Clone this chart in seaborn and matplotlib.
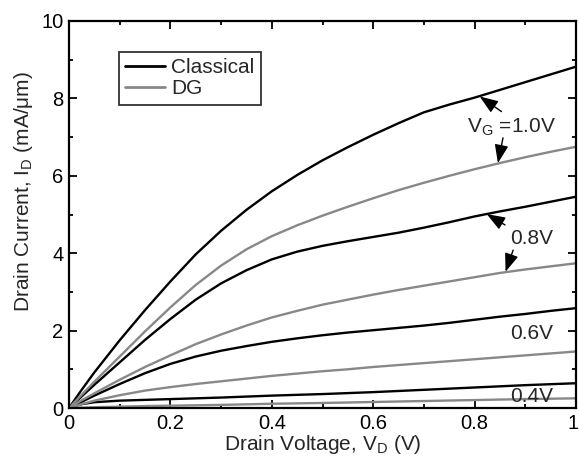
import numpy as np
import pandas as pd
import matplotlib
matplotlib.use("Agg")
import matplotlib.pyplot as plt
import matplotlib.transforms as mtransforms
import seaborn as sns
from matplotlib.lines import Line2D
from matplotlib.ticker import MultipleLocator

# ---- data ----
vd = [0, 0.025, 0.05, 0.1, 0.15, 0.2, 0.25, 0.3, 0.35, 0.4, 0.45, 0.5, 0.55, 0.6,
      0.65, 0.7, 0.75, 0.8, 0.85, 0.9, 0.95, 1.0]

classical_10 = [0, 0.47, 0.92, 1.75, 2.53, 3.27, 3.97, 4.58, 5.12, 5.6, 6.02, 6.4, 6.74, 7.06,
                7.36, 7.64, 7.84, 8.02, 8.22, 8.42, 8.62, 8.82]
classical_08 = [0, 0.3, 0.6, 1.18, 1.76, 2.3, 2.8, 3.22, 3.56, 3.84, 4.04, 4.19, 4.31, 4.42,
                4.53, 4.66, 4.8, 4.95, 5.08, 5.2, 5.33, 5.46]
classical_06 = [0, 0.16, 0.32, 0.62, 0.9, 1.14, 1.33, 1.48, 1.6, 1.71, 1.8, 1.88, 1.95, 2.01,
                2.07, 2.13, 2.2, 2.28, 2.36, 2.43, 2.51, 2.58]
classical_04 = [0, 0.1, 0.15, 0.19, 0.21, 0.23, 0.25, 0.27, 0.295, 0.32, 0.34, 0.36, 0.385, 0.41,
                0.44, 0.47, 0.5, 0.53, 0.56, 0.59, 0.615, 0.64]

dg_10 = [0, 0.34, 0.68, 1.33, 1.98, 2.6, 3.18, 3.68, 4.1, 4.44, 4.72, 4.97, 5.2, 5.42,
         5.63, 5.82, 6.0, 6.17, 6.33, 6.48, 6.62, 6.75]
dg_08 = [0, 0.2, 0.38, 0.73, 1.06, 1.36, 1.65, 1.9, 2.13, 2.34, 2.51, 2.67, 2.8, 2.93,
         3.05, 3.16, 3.27, 3.38, 3.49, 3.58, 3.66, 3.74]
dg_06 = [0, 0.1, 0.19, 0.33, 0.45, 0.54, 0.62, 0.69, 0.76, 0.83, 0.89, 0.95, 1.0, 1.06,
         1.11, 1.16, 1.21, 1.26, 1.31, 1.36, 1.41, 1.46]
dg_04 = [0, 0.01, 0.02, 0.035, 0.05, 0.06, 0.07, 0.08, 0.095, 0.11, 0.12, 0.13, 0.142, 0.155,
         0.168, 0.18, 0.193, 0.205, 0.218, 0.23, 0.24, 0.25]

x_ticks = [0, 0.2, 0.4, 0.6, 0.8, 1.0]
x_tick_labels = ["0", "0.2", "0.4", "0.6", "0.8", "1"]
y_ticks = [0, 2, 4, 6, 8, 10]
y_tick_labels = ["0", "2", "4", "6", "8", "10"]

series = {
    ("Classical", "1.0"): classical_10,
    ("Classical", "0.8"): classical_08,
    ("Classical", "0.6"): classical_06,
    ("Classical", "0.4"): classical_04,
    ("DG", "1.0"): dg_10,
    ("DG", "0.8"): dg_08,
    ("DG", "0.6"): dg_06,
    ("DG", "0.4"): dg_04,
}

rows = []
for (model, vg), vals in series.items():
    for x, y in zip(vd, vals):
        rows.append({"VD": x, "ID": y, "model": model, "VG": vg})
df = pd.DataFrame(rows)

# ---- style ----
sns.set_style("ticks")
plt.rcParams["font.family"] = ["Liberation Sans", "DejaVu Sans"]
plt.rcParams["mathtext.fontset"] = "custom"
plt.rcParams["mathtext.rm"] = "Liberation Sans"
plt.rcParams["mathtext.it"] = "Liberation Sans"

colors = {"Classical": "#000000", "DG": "#888888"}

fig = plt.figure(figsize=(5.79, 4.59), dpi=100)
ax = fig.add_axes([69 / 579, 1 - 408 / 459, (576 - 69) / 579, (408 - 21) / 459])

for (model, vg), sub in df.groupby(["model", "VG"]):
    sns.lineplot(data=sub, x="VD", y="ID", color=colors[model], lw=1.7,
                 ax=ax, legend=False, estimator=None, sort=True)

ax.set_xlim(0, 1)
ax.set_ylim(0, 10)
ax.set_xticks(x_ticks)
ax.set_xticklabels(x_tick_labels)
ax.set_yticks(y_ticks)
ax.set_yticklabels(y_tick_labels)
ax.xaxis.set_minor_locator(MultipleLocator(0.1))
ax.yaxis.set_minor_locator(MultipleLocator(1))
ax.tick_params(which="both", direction="in", top=True, right=True, width=1.3,
               labelsize=14.5, colors="k")
ax.tick_params(which="major", length=6, pad=4)
ax.tick_params(which="minor", length=3)
for s in ax.spines.values():
    s.set_linewidth(1.6)
    s.set_color("k")

# keep the last x tick label inside the figure
last = ax.get_xticklabels()[-1]
last.set_transform(last.get_transform() +
                   mtransforms.ScaledTranslation(-3 / 100, 0, fig.dpi_scale_trans))

ax.set_xlabel(r"Drain Voltage, V$_\mathrm{D}$ (V)", fontsize=15, labelpad=0)
ax.set_ylabel(r"Drain Current, I$_\mathrm{D}$ (mA/$\mathrm{\mu}$m)", fontsize=15)
ax.yaxis.set_label_coords(-0.068, 0.56)

# legend
handles = [Line2D([], [], color=colors["Classical"], lw=2),
           Line2D([], [], color=colors["DG"], lw=2)]
leg = ax.legend(handles, ["Classical", "DG"], loc="upper left",
                bbox_to_anchor=(0.0986, 0.92), fontsize=15, frameon=True,
                fancybox=False, edgecolor="k", handlelength=1.9,
                handletextpad=0.3, borderpad=0.3, labelspacing=0.1,
                borderaxespad=0)
leg.get_frame().set_linewidth(1.3)

# annotations
ap = dict(arrowstyle="-|>,head_length=0.8,head_width=0.3", color="k", lw=1,
          shrinkA=0, shrinkB=0, mutation_scale=14)
ax.text(0.785, 7.26, r"V$_\mathrm{G}$ =1.0V", fontsize=15, va="center", ha="left")
ax.annotate("", xy=(0.81, 8.05), xytext=(0.853, 7.66), arrowprops=ap)
ax.annotate("", xy=(0.846, 6.33), xytext=(0.856, 6.98), arrowprops=ap)

ax.text(0.871, 4.39, "0.8V", fontsize=15, va="center", ha="left")
ax.annotate("", xy=(0.824, 5.01), xytext=(0.86, 4.73), arrowprops=ap)
ax.annotate("", xy=(0.861, 3.52), xytext=(0.876, 4.08), arrowprops=ap)

ax.text(0.871, 1.93, "0.6V", fontsize=15, va="center", ha="left")
ax.text(0.871, 0.29, "0.4V", fontsize=15, va="center", ha="left")

fig.savefig("out.png", dpi=100)
